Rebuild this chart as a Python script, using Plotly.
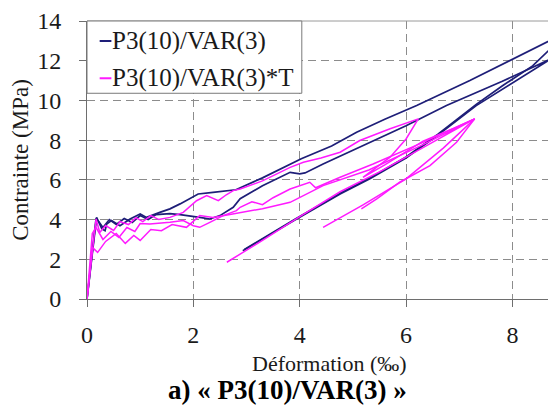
import plotly.graph_objects as go

NAVY = "#1e1e78"
MAGENTA = "#ff1aff"
GRID = "#8c8c8c"
AXIS = "#6e6e6e"
FONT = "Liberation Serif"

# P3(10)/VAR(3) - first specimen (goes past the right edge, then unloads)
blue_a_x = [0, 0.18, 0.28, 0.34, 0.37, 0.46, 0.62, 0.81, 1.0, 1.12, 1.37, 1.56, 1.75,
            2.09, 2.37, 2.6, 2.8, 3.3, 3.82, 4.03, 4.6, 5.07, 5.6, 6.2, 7.2, 8.0, 8.82,
            8.98, 8.82, 8.38, 7.82, 7.32, 6.6, 6.0, 5.32, 4.76, 3.91, 2.96]
blue_a_y = [0, 4.11, 3.53, 3.44, 3.78, 3.95, 3.69, 4.03, 4.28, 4.11, 4.36, 4.54, 4.79,
            5.29, 5.37, 5.45, 5.5, 6.1, 6.79, 7.06, 7.7, 8.4, 9.05, 9.74, 11.0, 12.05, 13.15,
            13.38, 12.87, 11.74, 10.75, 9.8, 8.3, 7.15, 6.1, 5.33, 4.02, 2.5]

# P3(10)/VAR(3) - second specimen
blue_b_x = [0, 0.17, 0.22, 0.3, 0.42, 0.55, 0.7, 0.85, 1.0, 1.15, 1.3, 1.56, 1.75, 1.94,
            2.15, 2.31, 2.5, 2.75, 2.88, 3.3, 3.82, 4.0, 4.1, 4.44, 5.2, 6.0, 6.76, 7.8,
            8.73, 7.95, 7.32, 6.6, 6.0, 5.32, 4.76, 3.91, 2.93]
blue_b_y = [0, 4.05, 3.9, 3.6, 4.0, 3.75, 4.05, 3.85, 4.2, 4.0, 4.25, 4.3, 4.25, 4.19,
            4.1, 4.03, 4.2, 4.62, 5.05, 5.7, 6.38, 6.3, 6.35, 6.8, 7.75, 8.73, 9.74, 10.95,
            12.1, 10.8, 9.74, 8.25, 7.1, 6.05, 5.29, 3.98, 2.43]

# P3(10)/VAR(3)*T - three specimens
mag_1_x = [0, 0.08, 0.17, 0.24, 0.35, 0.5, 0.62, 0.78, 0.92, 1.05, 1.2, 1.35, 1.56, 1.81,
           2.06, 2.25, 2.47, 2.62, 2.75, 2.88, 3.3, 3.82, 4.07, 4.4, 4.76, 5.13, 5.7, 6.23,
           6.0, 5.7, 5.19, 5.6, 6.32, 6.9, 7.29, 6.95, 6.45, 5.88, 5.45, 5.16]
mag_1_y = [0, 2.0, 4.03, 3.35, 3.7, 3.45, 3.9, 3.75, 4.1, 3.9, 4.2, 4.0, 4.11, 4.36,
           4.95, 5.21, 4.95, 5.25, 5.46, 5.54, 5.95, 6.63, 6.89, 7.1, 7.39, 7.98, 8.57, 9.07,
           8.06, 7.14, 6.13, 6.75, 7.95, 8.6, 9.07, 7.89, 6.72, 5.88, 5.04, 4.54]

mag_2_x = [0, 0.1, 0.17, 0.3, 0.45, 0.6, 0.75, 0.9, 1.0, 1.18, 1.56, 1.81, 2.0, 2.12,
           2.31, 2.56, 2.81, 2.88, 3.1, 3.3, 3.5, 3.82, 4.19, 4.3, 4.76, 5.38, 6.32, 7.29,
           6.7, 6.0, 5.2, 4.44]
mag_2_y = [0, 3.3, 3.6, 3.0, 3.4, 3.1, 3.6, 3.4, 3.8, 3.78, 3.86, 3.95, 3.69, 3.61,
           3.86, 4.2, 4.45, 4.62, 4.9, 4.75, 5.1, 5.54, 5.88, 5.6, 6.13, 6.8, 7.89, 9.07,
           7.6, 6.05, 4.75, 3.61]

mag_3_x = [0, 0.1, 0.2, 0.35, 0.55, 0.72, 0.88, 1.0, 1.2, 1.4, 1.6, 1.87, 2.12, 2.37,
           2.74, 3.0, 3.3, 3.82, 4.44, 5.3, 6.3, 7.29, 6.3, 5.5, 4.76, 4.0, 3.3, 2.63]
mag_3_y = [0, 2.6, 2.35, 2.9, 3.3, 2.8, 3.2, 2.95, 3.5, 3.44, 3.75, 3.61, 4.2, 4.11,
           4.28, 4.4, 4.55, 4.87, 5.71, 6.5, 7.75, 9.07, 7.6, 6.4, 5.4, 4.15, 2.95, 1.85]

x_ticks = [0, 2, 4, 6, 8]
y_ticks = [0, 2, 4, 6, 8, 10, 12, 14]
series_names = ["P3(10)/VAR(3)", "P3(10)/VAR(3)*T"]
series_colors = [NAVY, MAGENTA]


def joined(*parts):
    out = []
    for p in parts:
        if out:
            out.append(None)
        out.extend(p)
    return out


fig = go.Figure()
fig.add_trace(go.Scatter(
    x=joined(blue_a_x, blue_b_x), y=joined(blue_a_y, blue_b_y),
    mode="lines", name=series_names[0], showlegend=False,
    line=dict(color=NAVY, width=1.7),
))
fig.add_trace(go.Scatter(
    x=joined(mag_1_x, mag_2_x, mag_3_x), y=joined(mag_1_y, mag_2_y, mag_3_y),
    mode="lines", name=series_names[1], showlegend=False,
    line=dict(color=MAGENTA, width=1.5),
))

axis_common = dict(
    showgrid=True, gridcolor=GRID, griddash="8px,5px", gridwidth=1,
    zeroline=False, showline=True, linecolor=AXIS, linewidth=1,
    ticks="outside", ticklen=7, tickcolor=AXIS, automargin=False,
    tickfont=dict(family=FONT, size=24, color="#1a1a1a"),
)
fig.update_xaxes(range=[0, 8.82], tickvals=x_ticks, ticklabelstandoff=7, **axis_common)
fig.update_yaxes(
    range=[0, 14], tickvals=y_ticks, ticklabelstandoff=13,
    title=dict(text="Contrainte (MPa)", font=dict(family=FONT, size=23, color="#1a1a1a"), standoff=5),
    **axis_common,
)

# top frame line
fig.add_shape(type="line", xref="paper", yref="paper", x0=0, x1=1, y0=1, y1=1,
              line=dict(color="#9a9a9a", width=1))

# legend box drawn by hand so the short line samples match
fig.add_shape(type="rect", xref="paper", yref="paper", x0=0, x1=0.458, y0=0.74, y1=1,
              fillcolor="white", line=dict(color="#7a7a7a", width=1), layer="above")
for i, (name, color) in enumerate(zip(series_names, series_colors)):
    yy = 0.928 - i * 0.134
    fig.add_shape(type="line", xref="paper", yref="paper", x0=0.027, x1=0.052, y0=yy, y1=yy,
                  line=dict(color=color, width=2), layer="above")
    fig.add_annotation(text=name, xref="paper", yref="paper", x=0.05, y=yy,
                       showarrow=False, xanchor="left", yanchor="middle",
                       font=dict(family=FONT, size=25, color="#1a1a1a"))

fig.add_annotation(text="Déformation (‰)", xref="paper", yref="paper", x=0.516, y=-0.231,
                   showarrow=False, xanchor="center", yanchor="middle",
                   font=dict(family=FONT, size=22, color="#1a1a1a"))
fig.add_annotation(text="<b>a) « P3(10)/VAR(3) »</b>", xref="paper", yref="paper", x=0.428, y=-0.327,
                   showarrow=False, xanchor="center", yanchor="middle",
                   font=dict(family=FONT, size=27, color="#000"))

# the page body adds an 8px offset, so the figure is sized to the visible window
fig.update_layout(
    width=548, height=397,
    margin=dict(l=79, r=0, t=13, b=106),
    plot_bgcolor="white", paper_bgcolor="white",
    showlegend=False,
)

fig.write_html("out.html")
